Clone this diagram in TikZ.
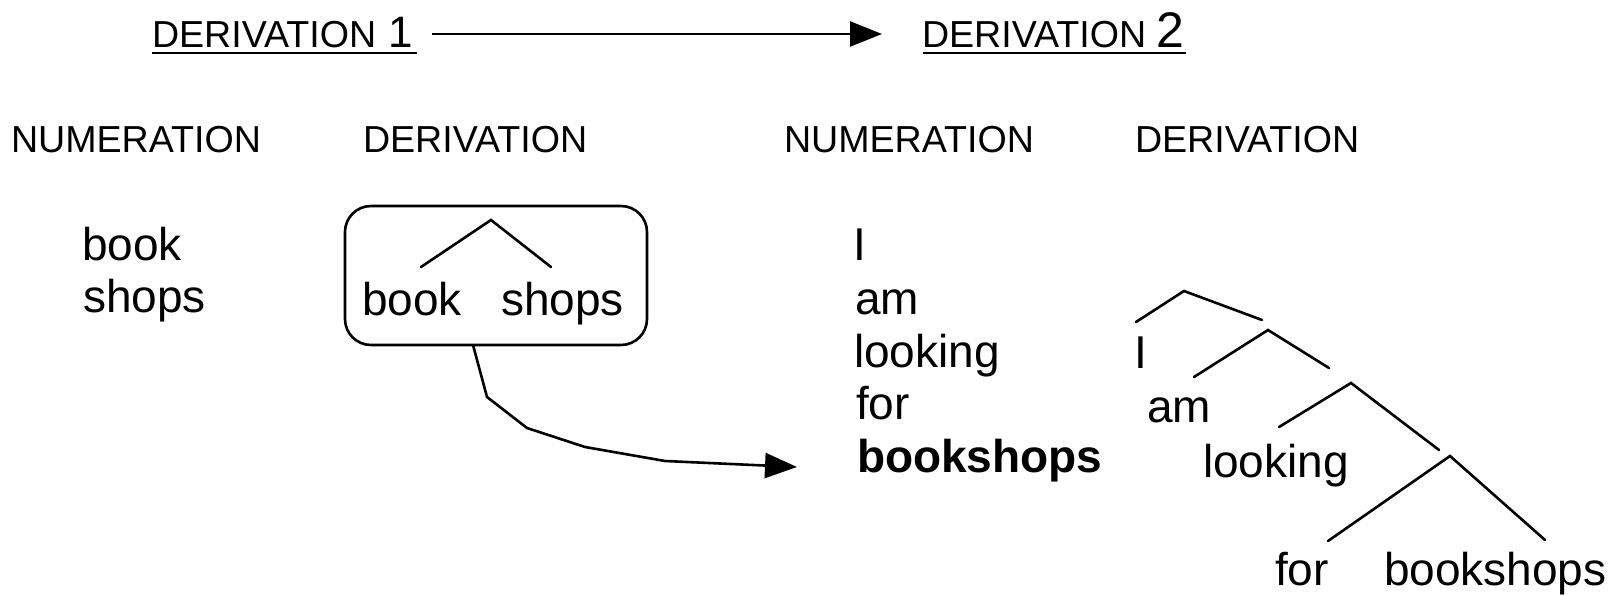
\documentclass[tikz,border=0pt]{standalone}
\usepackage{fontspec}
\setmainfont{Liberation Sans}
\usetikzlibrary{arrows.meta}
\begin{document}
\begin{tikzpicture}[x=1pt,y=-1pt,
  every node/.style={inner sep=0pt, outer sep=0pt, anchor=base west},
  hdr/.style={font=\fontsize{37.6}{40}\selectfont},
  word/.style={font=\fontsize{46}{50}\selectfont},
  boldword/.style={font=\fontsize{46}{50}\selectfont\bfseries},
  branch/.style={line width=2.6pt, line cap=round},
  bigarrow/.style={line width=2.6pt, line join=round, -{Triangle[length=32pt,width=25pt]}},
  ]
\useasboundingbox (0,0) rectangle (1617,596);

% --- headings ---
\node[hdr] (d1) at (152,48) {DERIVATION\hspace{2pt} {\fontsize{44}{46}\selectfont 1}};
\node[hdr] (d2) at (922,48) {DERIVATION {\fontsize{50}{52}\selectfont 2}};
\draw[line width=2.6pt] ([xshift=0pt,yshift=-5pt]d1.base west) -- ([xshift=4pt,yshift=-5pt]d1.base east);
\draw[line width=2.6pt] ([xshift=1pt,yshift=-5pt]d2.base west) -- ([xshift=2pt,yshift=-5pt]d2.base east);
\draw[bigarrow] ([xshift=19pt,yshift=14pt]d1.base east) -- ([xshift=-40pt,yshift=14pt]d2.base west);

% --- column headers ---
\node[hdr] (n1) at (11,153) {NUMERATION};
\node[hdr] (v1) at (363,153) {DERIVATION};
\node[hdr] (n2) at (784,153) {NUMERATION};
\node[hdr] (v2) at (1135,153) {DERIVATION};

% --- numeration 1 ---
\node[word] (bk) at (82,260) {book};
\node[word] (sh) at (83,312) {shops};

% --- derivation 1: boxed tree ---
\node[draw, line width=2.6pt, rounded corners=26pt, minimum width=302pt,
      minimum height=139pt, anchor=center] (dbox) at (496,275.5) {};
\node[word] (bk2) at (362,315) {book};
\node[word] (sh2) at (501,315) {shops};
\coordinate (a0) at (491,220);
\coordinate (a0l) at (421,267);
\coordinate (a0r) at (551,267);
\draw[branch] (a0l) -- (a0) -- (a0r);

% --- numeration 2 ---
\node[word] (i1) at (853,261) {I};
\node[word] (am1) at (855,314) {am};
\node[word] (lk1) at (854,367) {looking};
\node[word] (fr1) at (856,419) {for};
\node[boldword] (bs) at (857,472) {bookshops};

% --- derivation 2: right-branching tree ---
\node[word] (i2) at (1134,368) {I};
\node[word] (am2) at (1147,422) {am};
\node[word] (lk2) at (1203,477) {looking};
\node[word] (fr2) at (1275,585) {for};
\node[word] (bs2) at (1384,585) {bookshops};

\coordinate (t1) at (1184,291);
\coordinate (t1l) at (1136,322);
\coordinate (t1r) at (1262,320);
\coordinate (t2) at (1268,330);
\coordinate (t2l) at (1194,377);
\coordinate (t2r) at (1329,368);
\coordinate (t3) at (1351,383);
\coordinate (t3l) at (1279,427);
\coordinate (t3r) at (1439,450);
\coordinate (t4) at (1450,456);
\coordinate (t4l) at (1328,541);
\coordinate (t4r) at (1545,540);
\draw[branch] (t1l) -- (t1) -- (t1r);
\draw[branch] (t2l) -- (t2) -- (t2r);
\draw[branch] (t3l) -- (t3) -- (t3r);
\draw[branch] (t4l) -- (t4) -- (t4r);

% --- lexical item carried into the second numeration ---
\coordinate (c1) at (487,397);
\coordinate (c2) at (527,428);
\coordinate (c3) at (585,447);
\coordinate (c4) at (665,461);
\draw[bigarrow] ([xshift=-23pt]dbox.south) -- (c1) -- (c2) -- (c3) -- (c4)
  -- ([xshift=-60pt,yshift=5pt]bs.base west);
\end{tikzpicture}
\end{document}
